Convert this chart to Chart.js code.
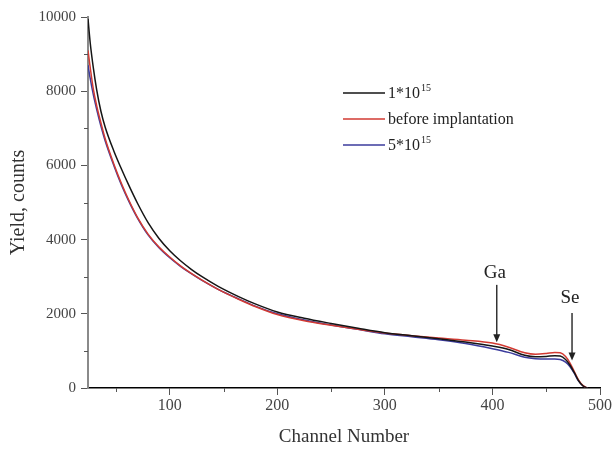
<!DOCTYPE html>
<html>
<head>
<meta charset="utf-8">
<script src="https://cdn.jsdelivr.net/npm/chart.js@4.4.1/dist/chart.umd.min.js"></script>
<style>
  html, body { margin: 0; padding: 0; background: #fff; }
  #wrap { width: 614px; height: 450px; position: relative; }
</style>
</head>
<body>
<div id="wrap"><canvas id="rbsChart"></canvas></div>
<script>
// channel numbers shared by all three spectra
const channels = [24, 26, 29, 32, 36, 40, 48, 55, 62, 70, 80, 90, 100, 110, 120, 130, 145, 165, 180, 200,
    225, 250, 275, 300, 325, 350, 375, 400, 415, 430, 440, 450, 458, 463, 468, 472, 476, 480, 484, 488];

// yield, counts
const dose1e15 = [9950, 9320, 8620, 8050, 7460, 7030, 6390, 5910, 5460, 4980, 4450, 4030, 3700, 3430, 3200, 3000, 2740, 2450, 2260, 2050,
    1880, 1740, 1610, 1490, 1410, 1330, 1240, 1130, 1040, 880, 840, 850, 870, 860, 770, 620, 420, 200, 60, 0];
const beforeImpl = [9100, 8650, 8050, 7620, 7150, 6720, 6040, 5520, 5060, 4600, 4140, 3800, 3530, 3290, 3090, 2910, 2660, 2380, 2190, 1980,
    1810, 1690, 1580, 1480, 1410, 1350, 1290, 1210, 1100, 950, 910, 930, 960, 950, 850, 680, 450, 220, 70, 0];
const dose5e15 = [8700, 8350, 7900, 7520, 7060, 6660, 6000, 5480, 5030, 4580, 4120, 3780, 3510, 3280, 3080, 2900, 2660, 2390, 2200, 2000,
    1830, 1700, 1580, 1460, 1380, 1300, 1200, 1060, 960, 830, 790, 780, 780, 770, 700, 580, 400, 190, 60, 0];

const seriesNames = ['1*10^15', 'before implantation', '5*10^15'];
const seriesColors = ['#151515', '#d23a32', '#3b3b9c'];

const xMajorTicks = [100, 200, 300, 400, 500];
const xMinorTicks = [50, 150, 250, 350, 450];
const yMajorTicks = [0, 2000, 4000, 6000, 8000, 10000];
const yMinorTicks = [1000, 3000, 5000, 7000, 9000];

// element peaks marked with arrows
const peakNames = ['Ga', 'Se'];
const peakChannels = [404, 474];

const serif = "'Liberation Serif', 'DejaVu Serif', serif";

function toPoints(values) {
    return channels.map((c, i) => ({ x: c, y: values[i] }));
}

// short minor tick marks
const minorTicks = {
    id: 'minorTicks',
    afterDraw(chart) {
        const { ctx, chartArea, scales } = chart;
        ctx.save();
        ctx.strokeStyle = '#555';
        ctx.lineWidth = 1;
        ctx.beginPath();
        xMinorTicks.forEach(v => {
            const px = Math.round(scales.x.getPixelForValue(v)) + 0.5;
            ctx.moveTo(px, chartArea.bottom);
            ctx.lineTo(px, chartArea.bottom + 4);
        });
        yMinorTicks.forEach(v => {
            const py = Math.round(scales.y.getPixelForValue(v)) + 0.5;
            ctx.moveTo(chartArea.left - 4, py);
            ctx.lineTo(chartArea.left, py);
        });
        ctx.stroke();
        ctx.restore();
    }
};

// Ga / Se labels with arrows
const peakArrows = {
    id: 'peakArrows',
    afterDatasetsDraw(chart) {
        const { ctx, scales } = chart;
        const marks = [
            { label: 0, textY: 3100, top: 2780, tip: 1230 },
            { label: 1, textY: 2420, top: 2020, tip: 740 }
        ];
        ctx.save();
        marks.forEach(m => {
            const px = scales.x.getPixelForValue(peakChannels[m.label]);
            const ty = scales.y.getPixelForValue(m.textY);
            const y1 = scales.y.getPixelForValue(m.top);
            const y2 = scales.y.getPixelForValue(m.tip);
            ctx.fillStyle = '#222';
            ctx.font = '19px ' + serif;
            ctx.textAlign = 'center';
            ctx.textBaseline = 'middle';
            ctx.fillText(peakNames[m.label], px - 2, ty);
            ctx.strokeStyle = '#333';
            ctx.lineWidth = 1.5;
            ctx.beginPath();
            ctx.moveTo(px, y1);
            ctx.lineTo(px, y2 - 6);
            ctx.stroke();
            ctx.beginPath();
            ctx.moveTo(px - 3.5, y2 - 8);
            ctx.lineTo(px + 3.5, y2 - 8);
            ctx.lineTo(px, y2);
            ctx.closePath();
            ctx.fill();
        });
        ctx.restore();
    }
};

// legend drawn inside the plot, labels with superscript exponents
const innerLegend = {
    id: 'innerLegend',
    afterDraw(chart) {
        const { ctx } = chart;
        const x0 = 343, x1 = 385, rows = [93, 119, 145];
        ctx.save();
        chart.data.datasets.forEach((ds, i) => {
            const y = rows[i];
            ctx.strokeStyle = ds.borderColor;
            ctx.lineWidth = 1.3;
            ctx.beginPath();
            ctx.moveTo(x0, y);
            ctx.lineTo(x1, y);
            ctx.stroke();
            const parts = ds.label.split('^');
            ctx.fillStyle = '#222';
            ctx.textAlign = 'left';
            ctx.textBaseline = 'middle';
            ctx.font = '16px ' + serif;
            ctx.fillText(parts[0], x1 + 3, y + 1);
            if (parts[1]) {
                const w = ctx.measureText(parts[0]).width;
                ctx.font = '10px ' + serif;
                ctx.fillText(parts[1], x1 + 4 + w, y - 5);
            }
        });
        ctx.restore();
    }
};

const ctx = document.getElementById('rbsChart').getContext('2d');
const chart = new Chart(ctx, {
    type: 'line',
    data: {
        datasets: [dose1e15, beforeImpl, dose5e15].map((vals, i) => ({
            label: seriesNames[i],
            data: toPoints(vals),
            borderColor: seriesColors[i],
            backgroundColor: seriesColors[i],
            borderWidth: 1.5,
            pointRadius: 0,
            cubicInterpolationMode: 'monotone',
            fill: false
        }))
    },
    options: {
        responsive: true,
        maintainAspectRatio: false,
        animation: false,
        layout: { padding: { top: 17, right: 14, left: 0, bottom: 0 } },
        plugins: {
            legend: { display: false },
            tooltip: { enabled: false }
        },
        scales: {
            x: {
                type: 'linear',
                min: 24,
                max: 500,
                afterBuildTicks: s => { s.ticks = xMajorTicks.map(v => ({ value: v })); },
                afterFit: s => { s.height = 62; },
                border: { color: '#000', width: 1.5 },
                grid: { drawOnChartArea: false, tickLength: 7, color: '#555' },
                ticks: {
                    color: '#444',
                    font: { family: serif, size: 16 },
                    padding: 1,
                    maxRotation: 0,
                    callback: v => String(v)
                },
                title: {
                    display: true,
                    text: 'Channel Number',
                    color: '#333',
                    font: { family: serif, size: 19 },
                    padding: { top: 0, bottom: 2 }
                }
            },
            y: {
                min: 0,
                max: 10000,
                afterBuildTicks: s => { s.ticks = yMajorTicks.map(v => ({ value: v })); },
                afterFit: s => { s.width = 88; },
                border: { color: '#8a8a8a', width: 2 },
                grid: { drawOnChartArea: false, tickLength: 7, color: '#555' },
                ticks: {
                    color: '#444',
                    font: { family: serif, size: 15 },
                    padding: 5,
                    callback: v => String(v)
                },
                title: {
                    display: true,
                    text: 'Yield, counts',
                    color: '#333',
                    font: { family: serif, size: 20 },
                    padding: { top: 7, bottom: 0 }
                }
            }
        }
    },
    plugins: [minorTicks, peakArrows, innerLegend]
});
</script>
</body>
</html>
